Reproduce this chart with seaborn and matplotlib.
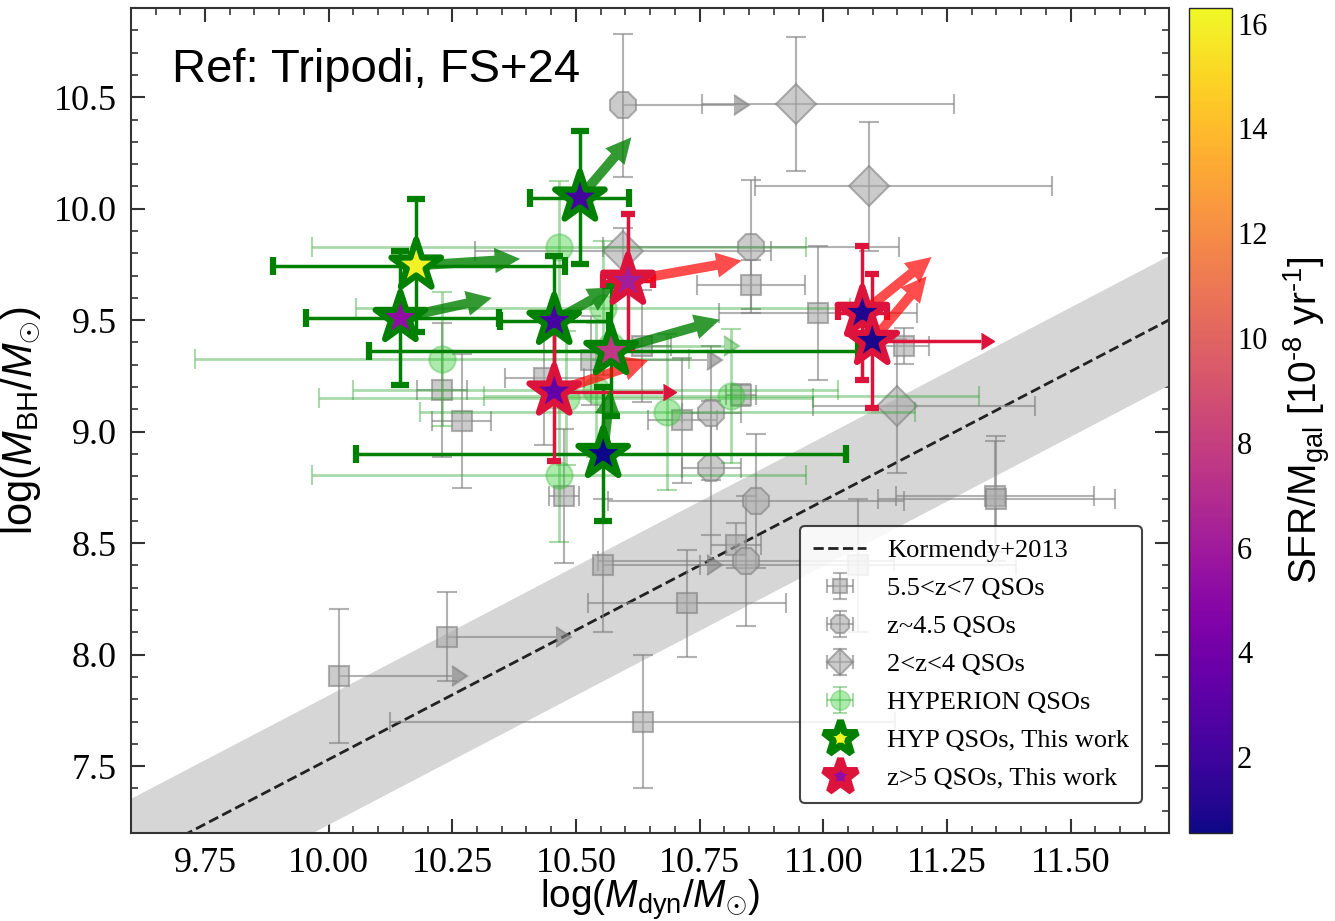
import numpy as np
import matplotlib
matplotlib.use("Agg")
import matplotlib.pyplot as plt
import seaborn as sns
import pandas as pd
from matplotlib.lines import Line2D
from matplotlib.colors import Normalize
from matplotlib.cm import ScalarMappable
from matplotlib.ticker import MultipleLocator, FormatStrFormatter

sns.set_style("ticks")
plt.rcParams['font.family'] = ['Liberation Serif', 'DejaVu Serif']
plt.rcParams['text.color'] = 'black'
plt.rcParams['axes.labelcolor'] = 'black'
plt.rcParams['mathtext.fontset'] = 'custom'
plt.rcParams['mathtext.rm'] = 'Liberation Sans'
plt.rcParams['mathtext.it'] = 'Liberation Sans:italic'
plt.rcParams['mathtext.bf'] = 'Liberation Sans:bold'
plt.rcParams['mathtext.sf'] = 'Liberation Sans'

# Kormendy & Ho (2013) local relation
KH_NORM, KH_SLOPE, KH_PIVOT, KH_SCATTER = 8.69, 1.16, 11.0, 0.29

# 5.5<z<7 QSOs (squares) with two-sided errors
sq_x = [10.635, 10.725, 10.824, 11.348, 11.350, 11.070, 10.229, 10.269,
        10.476, 10.633, 10.854, 10.990, 11.163, 10.715, 10.834, 10.436]
sq_y = [7.70, 8.23, 8.49, 8.71, 8.70, 8.40, 9.187, 9.047,
        8.71, 9.385, 9.66, 9.533, 9.385, 9.052, 9.164, 9.24]
sq_xerr = [0.51, 0.20, 0.05, 0.20, 0.24, 0.32, 0.05, 0.06,
           0.03, 0.06, 0.11, 0.20, 0.05, 0.07, 0.03, 0.08]
sq_yerr = [0.30, 0.24, 0.10, 0.25, 0.28, 0.30, 0.30, 0.30,
           0.30, 0.25, 0.11, 0.30, 0.08, 0.28, 0.05, 0.30]
# 5.5<z<7 QSOs with lower limits on M_dyn
sql_x = [10.02, 10.24, 10.555, 10.53]
sql_y = [7.905, 8.08, 8.40, 9.32]
sql_dx = [0.23, 0.22, 0.21, 0.235]
sql_yerr = [0.30, 0.20, 0.30, 0.20]

# z~4.5 QSOs (octagons)
oc_x = [10.854, 10.774, 10.774, 10.864, 10.844]
oc_y = [9.83, 9.083, 8.836, 8.688, 8.42]
oc_xerr = [0.30, 0.06, 0.06, 0.30, 0.30]
oc_yerr = [0.30, 0.30, 0.30, 0.30, 0.29]
ocl_x = [10.595]
ocl_y = [10.464]
ocl_dx = [0.225]
ocl_yerr = [0.32]

# 2<z<4 QSOs (diamonds)
dm_x = [10.945, 11.093, 10.595, 11.149]
dm_y = [10.469, 10.10, 9.812, 9.115]
dm_xlo = [0.19, 0.23, 0.30, 0.17]
dm_xhi = [0.32, 0.37, 0.30, 0.28]
dm_yerr = [0.30, 0.29, 0.10, 0.30]

# HYPERION QSOs (literature)
hy_x = [10.466, 10.229, 10.466, 10.685, 10.814, 10.555, 10.48, 10.54]
hy_y = [9.826, 9.326, 8.805, 9.09, 9.16, 9.555, 9.15, 9.187]
hy_xerr = [0.50, 0.50, 0.50, 0.50, 0.50, 0.50, 0.50, 0.49]
hy_yerr = [0.30, 0.30, 0.30, 0.35, 0.30, 0.30, 0.30, 0.30]
hyl_x = [10.57]
hyl_y = [9.385]
hyl_dx = [0.23]

# HYPERION QSOs, this work
hyp_x = [10.177, 10.145, 10.508, 10.456, 10.571, 10.555]
hyp_y = [9.745, 9.51, 10.05, 9.497, 9.362, 8.90]
hyp_xlo = [0.29, 0.19, 0.10, 0.11, 0.49, 0.50]
hyp_xhi = [0.30, 0.20, 0.10, 0.11, 0.50, 0.49]
hyp_yerr = [0.30, 0.30, 0.30, 0.29, 0.29, 0.30]
hyp_sfr = [16.0, 5.3, 2.1, 2.3, 7.6, 0.6]
hyp_dx = [0.21, 0.185, 0.104, 0.12, 0.22, 0.015]
hyp_dy = [0.03, 0.09, 0.27, 0.15, 0.14, 0.29]

# z>5 QSOs, this work
zq_x = [10.605, 10.456, 11.079, 11.099]
zq_y = [9.677, 9.18, 9.533, 9.407]
zq_xerr = [0.05, 0.0, 0.05, 0.0]
zq_xlim = [0.0, 0.22, 0.0, 0.22]
zq_yerr = [0.30, 0.31, 0.30, 0.30]
zq_sfr = [6.1, 3.4, 1.0, 0.8]
zq_dx = [0.23, 0.19, 0.14, 0.11]
zq_dy = [0.09, 0.14, 0.25, 0.29]

SFR_MIN, SFR_MAX = 0.55, 16.3
cb_ticks = [2, 4, 6, 8, 10, 12, 14, 16]

fig = plt.figure(figsize=(13.35, 9.21), dpi=100)
ax = fig.add_axes([0.098, 0.0955, 0.778, 0.8958])
cax = fig.add_axes([0.891, 0.0955, 0.032, 0.8958])

# local relation with scatter band
xx = np.linspace(9.6, 11.7, 50)
yy = KH_NORM + KH_SLOPE * (xx - KH_PIVOT)
ax.fill_between(xx, yy - KH_SCATTER, yy + KH_SCATTER, color='#d6d6d6', lw=0, zorder=1)
ax.plot(xx, yy, ls='--', color='#222222', lw=2, zorder=1.5)

gray_kw = dict(color='gray', ecolor='gray', elinewidth=1.5, capsize=7, capthick=1.5,
               mfc='darkgray', mec='gray', mew=1.5, alpha=0.6, zorder=2)

ax.errorbar(sq_x, sq_y, xerr=sq_xerr, yerr=sq_yerr, fmt='s', ms=14, **gray_kw)
ax.errorbar(sql_x, sql_y, xerr=sql_dx, yerr=sql_yerr, xlolims=True, fmt='s', ms=14, **gray_kw)
ax.errorbar(oc_x, oc_y, xerr=oc_xerr, yerr=oc_yerr, fmt='8', ms=20, **gray_kw)
ax.errorbar(ocl_x, ocl_y, xerr=ocl_dx, yerr=ocl_yerr, xlolims=True, fmt='8', ms=20, **gray_kw)
ax.errorbar(dm_x, dm_y, xerr=[dm_xlo, dm_xhi], yerr=dm_yerr, fmt='D', ms=20, **gray_kw)

hy_kw = dict(color='#2ca02c', ecolor='#2ca02c', elinewidth=2, capsize=7, capthick=2,
             mfc='limegreen', mec='#4cb84c', mew=1.5, alpha=0.4, zorder=3)
ax.errorbar(hy_x, hy_y, xerr=hy_xerr, yerr=hy_yerr, fmt='o', ms=19, **hy_kw)
ax.errorbar(hyl_x, hyl_y, xerr=hyl_dx, xlolims=True, fmt='o', ms=19, **hy_kw)

# error bars of the new measurements
ax.errorbar(hyp_x, hyp_y, xerr=[hyp_xlo, hyp_xhi], yerr=hyp_yerr, fmt='none',
            color='green', ecolor='green', elinewidth=2.5, capsize=6.5, capthick=4.5, zorder=4)
ax.errorbar(zq_x, zq_y, xerr=zq_xerr, yerr=zq_yerr, fmt='none',
            color='crimson', ecolor='crimson', elinewidth=2.5, capsize=5, capthick=4.5, zorder=4)
ax.errorbar(zq_x, zq_y, xerr=zq_xlim, xlolims=[v > 0 for v in zq_xlim], fmt='none',
            color='crimson', ecolor='crimson', elinewidth=2.5, capsize=6, capthick=1, zorder=4)

arrow_style = "simple,head_length=1.3,head_width=1.3,tail_width=0.5"
for x0, y0, dx, dy in zip(hyp_x, hyp_y, hyp_dx, hyp_dy):
    ax.annotate("", xy=(x0 + dx, y0 + dy), xytext=(x0, y0),
                arrowprops=dict(arrowstyle=arrow_style, mutation_scale=14,
                                color='green', alpha=0.8, lw=0, shrinkA=0, shrinkB=0),
                zorder=5)
for x0, y0, dx, dy in zip(zq_x, zq_y, zq_dx, zq_dy):
    ax.annotate("", xy=(x0 + dx, y0 + dy), xytext=(x0, y0),
                arrowprops=dict(arrowstyle=arrow_style, mutation_scale=14,
                                color='red', alpha=0.7, lw=0, shrinkA=0, shrinkB=0),
                zorder=5)

norm = Normalize(SFR_MIN, SFR_MAX)
df_hyp = pd.DataFrame({'x': hyp_x, 'y': hyp_y, 'sfr': hyp_sfr})
df_zq = pd.DataFrame({'x': zq_x, 'y': zq_y, 'sfr': zq_sfr})
sns.scatterplot(data=df_hyp, x='x', y='y', hue='sfr', palette='plasma', hue_norm=norm,
                marker='*', s=1400, edgecolor='green', linewidth=4.5, legend=False,
                ax=ax, zorder=6)
sns.scatterplot(data=df_zq, x='x', y='y', hue='sfr', palette='plasma', hue_norm=norm,
                marker='*', s=1400, edgecolor='crimson', linewidth=4.5, legend=False,
                ax=ax, zorder=6)

ax.set_xlim(9.6, 11.7)
ax.set_ylim(7.2, 10.9)
ax.xaxis.set_major_locator(MultipleLocator(0.25))
ax.xaxis.set_minor_locator(MultipleLocator(0.05))
ax.xaxis.set_major_formatter(FormatStrFormatter('%.2f'))
ax.yaxis.set_major_locator(MultipleLocator(0.5))
ax.yaxis.set_minor_locator(MultipleLocator(0.1))
ax.yaxis.set_major_formatter(FormatStrFormatter('%.1f'))
ax.tick_params(which='both', direction='in', top=True, right=True, colors='#333333',
               labelcolor='black')
ax.tick_params(which='major', length=10, width=1.5, labelsize=26, pad=10)
ax.tick_params(which='minor', length=5, width=1.2)
for sp in ax.spines.values():
    sp.set_linewidth(1.5)
    sp.set_color('#333333')

ax.set_xlabel(r'log($M_{\rm dyn}/M_{\odot}$)', fontsize=28, family='Liberation Sans',
              labelpad=-2, color='black')
ax.set_ylabel(r'log($M_{\rm BH}/M_{\odot}$)', fontsize=30, family='Liberation Sans',
              labelpad=8, color='black')

ax.text(0.04, 0.91, 'Ref: Tripodi, FS+24', transform=ax.transAxes, fontsize=34,
        family='Liberation Sans', va='baseline', ha='left', color='black', zorder=10)

# legend
handles = [
    Line2D([], [], ls='--', color='#222222', lw=2),
]
labels = ['Kormendy+2013']
proxy_kw = dict(color='gray', ecolor='gray', elinewidth=1.5, capsize=5, capthick=1.5,
                mfc='darkgray', mec='gray', mew=1.5, alpha=0.6)
for mk, ms, lab in [('s', 10, '5.5<z<7 QSOs'), ('8', 14, 'z~4.5 QSOs'), ('D', 13, '2<z<4 QSOs')]:
    h = ax.errorbar([np.nan], [np.nan], xerr=[0.1], yerr=[0.1], fmt=mk, ms=ms, **proxy_kw)
    handles.append(h)
    labels.append(lab)
h = ax.errorbar([np.nan], [np.nan], xerr=[0.1], yerr=[0.1], fmt='o', ms=14,
                color='#2ca02c', ecolor='#2ca02c', elinewidth=1.5, capsize=5, capthick=1.5,
                mfc='limegreen', mec='#4cb84c', alpha=0.4)
handles.append(h)
labels.append('HYPERION QSOs')
handles.append(Line2D([], [], ls='none', marker='*', ms=26, mfc=plt.get_cmap('plasma')(1.0),
                      mec='green', mew=5))
labels.append('HYP QSOs, This work')
handles.append(Line2D([], [], ls='none', marker='*', ms=26, mfc=plt.get_cmap('plasma')(0.3),
                      mec='crimson', mew=5))
labels.append('z>5 QSOs, This work')
leg = ax.legend(handles, labels, loc='lower right', bbox_to_anchor=(0.974, 0.036),
                borderaxespad=0, fontsize=19, frameon=True, fancybox=True,
                framealpha=0.85, edgecolor='#222222', handlelength=2.0,
                handletextpad=0.8, labelspacing=0.55, borderpad=0.5)
leg.get_frame().set_linewidth(1.5)
leg.set_zorder(20)

# colour bar
sm = ScalarMappable(norm=norm, cmap='plasma')
cb = fig.colorbar(sm, cax=cax, ticks=cb_ticks)
cb.outline.set_linewidth(1.0)
cax.tick_params(direction='in', length=8, width=1.3, left=True, right=True,
                labelsize=22, colors='#222222', labelcolor='black')
cb.set_label('SFR/M$_{\\rm gal}$ [10$^{\\rm \u20108}$ yr$^{\\rm \u20101}$]', fontsize=28,
             family='Liberation Sans', labelpad=10, color='black')

fig.savefig('out.png', dpi=100)
